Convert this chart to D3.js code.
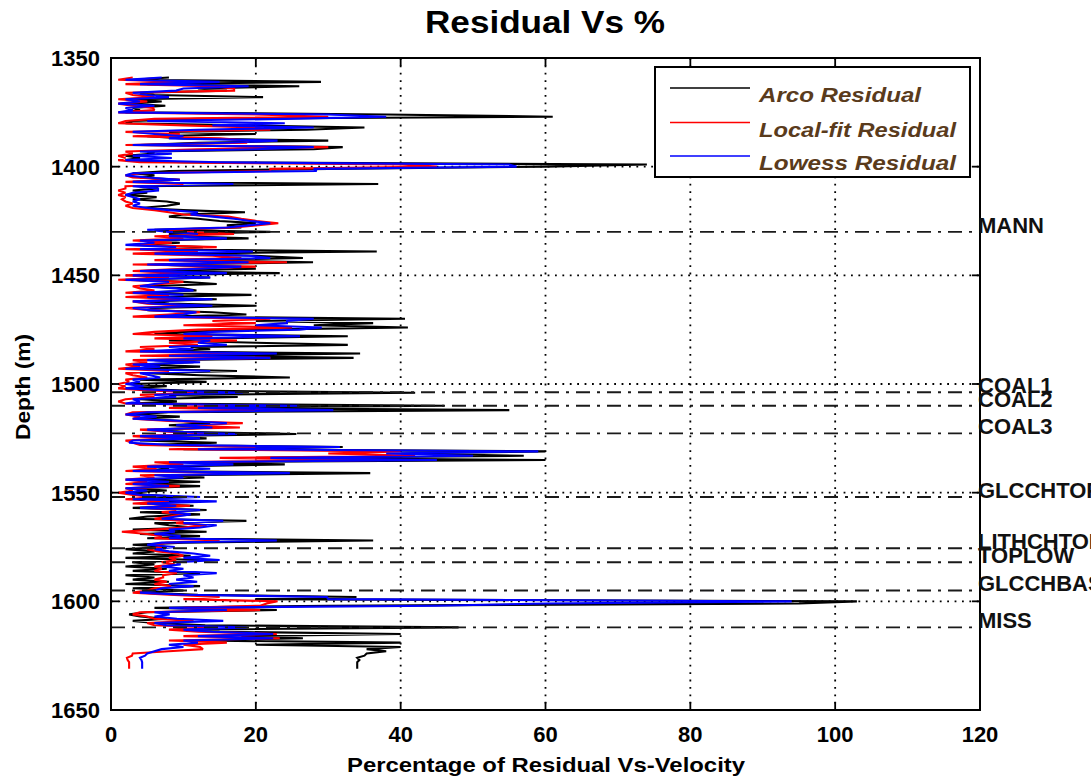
<!DOCTYPE html>
<html><head><meta charset="utf-8">
<script src="https://cdn.jsdelivr.net/npm/d3@7"></script>
<style>body{margin:0;background:#fff;} text{font-family:"Liberation Sans",Arial,sans-serif;}</style>
</head><body><svg id="c" width="1091" height="780"></svg>
<script>
// ---------------- data ----------------
const depthStart = 1359;   // first sample depth (m)
const depthStep = 1;       // sample spacing (m)

const arcoResidual = [
  8, 3, 29, 5, 26, 12, 16, 4, 6, 21,
  3, 7, 2, 7.5, 3, 4, 2, 38, 61, 12,
  3, 2, 18, 35, 27, 8, 20, 5, 10, 30,
  12, 4, 32, 28, 5, 6, 2, 4, 2, 10,
  74, 60, 30, 8, 3, 6, 4, 9.5, 3, 36.9,
  4, 6.5, 3, 5, 2, 6.3, 3, 7.7, 9.5, 7.7,
  4, 10, 18.5, 10, 8, 12, 15, 20, 16, 18,
  6, 22, 8, 10, 19, 5, 9.5, 4, 12.7, 5,
  36.7, 8, 20, 26.5, 10, 27.9, 6, 14, 20, 6,
  23.3, 4, 13.7, 3, 10, 14.6, 5, 10, 11.8, 4,
  19.4, 6, 14.6, 5, 8, 20.1, 6, 5, 14, 18.7,
  8, 40.6, 20, 36.2, 28, 41, 20, 10, 6, 32.7,
  14, 8, 20, 32.7, 11, 13.7, 6, 34.4, 10, 33.5,
  6, 11.4, 4, 12.3, 3, 17.4, 5, 12.3, 24.7, 4,
  13.2, 3, 7.7, 2, 10, 42, 8, 17.5, 4, 9.1,
  3, 46, 10, 55, 8, 3, 9.5, 4, 10, 13.7,
  8, 14.6, 6, 10, 25.6, 5, 13.2, 4, 14.6, 6,
  32, 10, 60, 40, 57, 20, 60, 10, 24, 6,
  8, 4, 35.8, 8, 12.9, 3, 12.3, 4, 12.3, 3,
  7.7, 2, 5, 10, 3, 11.4, 4, 11.4, 3, 13.2,
  4, 12.3, 5, 2.5, 18.7, 6, 8, 11.4, 3, 13.2,
  4, 12.3, 5, 36.2, 10, 3, 7.7, 2, 6, 3,
  11, 2, 12.3, 3, 6, 2, 7.7, 3, 12.3, 2,
  6, 3, 8, 2, 12.3, 3, 10, 4, 12, 33.9,
  20, 103, 95, 30, 6, 22.9, 5, 2.5, 4, 7.7,
  3, 6, 13, 48, 10, 15, 40, 18, 26.5, 12,
  40, 20, 40, 35.3, 38, 35.3, 35, 34, 34.3, 34,
  34, 34, 34
];

const localFitResidual = [
  3, 1, 10, 2, 14, 17, 17, 2, 3, 6,
  1, 5, 1, 3, 5.8, 6, 1, 20, 30, 6,
  2, 1, 10, 20, 22, 2, 9.5, 3, 15, 19,
  18.7, 2, 30, 12, 2, 3, 1, 2, 1, 4,
  40, 45, 22, 22, 4, 2, 3, 9.5, 2, 10,
  2, 2, 1, 2, 1, 2, 1.5, 2, 3, 2,
  3, 6, 8, 10, 16.2, 18, 20.1, 23.1, 20, 17,
  8, 10, 17, 6, 10, 3, 8.4, 3, 14.6, 2,
  12, 3, 14, 18, 6, 24.3, 3, 20, 10, 3,
  10, 2, 8, 1, 10, 7, 3, 4, 6, 2,
  8, 2, 10, 3, 5, 12, 2, 5.4, 12.3, 8,
  3, 22, 14, 20, 10, 25, 12, 6, 3, 14,
  6, 17.4, 8, 12, 4, 6, 2, 18, 4, 22,
  3, 5, 2, 4, 1, 8, 2, 3, 5, 2,
  2.5, 1, 2, 1, 5, 14, 4, 6, 2, 1,
  2, 20, 8, 24, 3, 2, 4, 3, 8, 18.2,
  10, 17.8, 4, 8, 14, 3, 8, 2, 3, 4,
  20, 8, 40, 30, 42, 15, 38, 6, 10, 3,
  6.3, 2, 18, 4, 6, 2, 5, 2, 9.5, 2,
  3, 1, 3, 6, 2, 8, 3, 10.9, 5, 9,
  7, 10, 8, 6, 10, 9, 13.2, 10, 6, 1.5,
  5, 7, 6, 15, 7.7, 6, 7, 5, 6.5, 9.1,
  10, 8, 9, 7, 8.8, 6, 7, 6, 9.1, 7.2,
  7.2, 6, 7.7, 6, 8.3, 6, 5, 3, 8, 15,
  10, 23, 21.5, 20.6, 10, 20.6, 4, 3, 5, 6,
  11.4, 5, 6, 14, 8, 12, 22.9, 10, 23.3, 8,
  16, 10, 12.3, 12.7, 8, 3, 2.9, 2.2, 2.3, 2.5,
  2.5, 2.5, 2.5
];

const lowessResidual = [
  7, 2, 15, 4, 19, 10, 9, 3, 5, 8,
  2, 4, 1, 6, 2, 3, 1, 30, 38, 24,
  5, 24, 14, 28, 12, 3, 6, 10, 8, 23,
  16, 3, 28, 20, 4, 8.4, 3, 8.4, 2, 15,
  55, 56, 28, 28.4, 3, 2, 5, 9.5, 3, 16.9,
  3, 6.5, 6.5, 3, 2, 3, 4, 3, 4, 3,
  5, 8, 12, 11, 14, 17, 19.2, 22, 19, 16,
  5, 8, 12, 8, 16, 4, 6, 2, 9, 4,
  19.6, 6, 19, 22, 8, 19, 5, 18, 12, 4,
  16, 3, 13.7, 2, 8, 6, 4, 9, 11.4, 3,
  10, 5, 14, 3, 6, 14, 3, 5.4, 11.8, 10,
  6, 28, 24.3, 24.3, 20, 29.1, 26, 14, 10, 26.1,
  10, 13.7, 12, 16, 8, 11.4, 4, 22.9, 8, 22,
  5, 12.3, 3, 6.8, 2, 13.7, 4, 5.4, 6.8, 3,
  4, 2, 4.5, 2, 8, 18.2, 6, 9, 3, 4,
  2, 26, 12, 30.7, 5, 2, 6.3, 3, 10, 16,
  9, 14, 5, 9, 17.4, 4, 12.3, 3, 2.5, 8,
  31.6, 12, 59, 38, 50, 22, 45, 8, 16.9, 5,
  13.7, 3, 24.7, 6, 10, 2, 8, 3, 8, 2,
  5, 2, 4, 12.3, 3, 14.6, 5, 9, 4, 12.3,
  8, 11, 9, 7, 15.5, 10, 14.6, 12.3, 8, 8.8,
  6, 9.6, 8, 22.9, 7, 5, 8.8, 6, 8, 11.4,
  13.7, 10, 15, 9, 9.6, 7, 10, 8, 14.6, 10,
  11.4, 9, 11.9, 8, 11.4, 7, 6, 4, 10, 29.8,
  30, 94, 60, 45, 8, 16, 6, 8.1, 6, 9.1,
  15.5, 6, 7.7, 18.7, 10, 14, 22.4, 12, 22.4, 10,
  12, 8, 10, 7, 6, 5, 4.7, 4, 4.2, 4.3,
  4.3, 4.3, 4.3
];

const seriesNames = ["Arco Residual", "Local-fit Residual", "Lowess Residual"];
const seriesColors = ["#000000", "#ff0000", "#0000ff"];

const formationNames  = ["MANN", "COAL1", "COAL2", "COAL3", "GLCCHTOP", "LITHCHTOP", "TOPLOW", "GLCCHBASE", "MISS"];
const formationDepths = [1430, 1503.8, 1510, 1522.7, 1552, 1575.6, 1582, 1595, 1612];

const xTicks = [0, 20, 40, 60, 80, 100, 120];
const yTicks = [1350, 1400, 1450, 1500, 1550, 1600, 1650];

const titleText = "Residual Vs %";
const xLabelText = "Percentage of Residual Vs-Velocity";
const yLabelText = "Depth (m)";

// ---------------- drawing ----------------
const svg = d3.select("#c");
const L = 111, R = 980, T = 58, B = 710;
const x = d3.scaleLinear().domain([0, 120]).range([L, R]);
const y = d3.scaleLinear().domain([1350, 1650]).range([T, B]);

svg.append("rect").attr("width", 1091).attr("height", 780).attr("fill", "#fff");

// grid (dotted)
const grid = svg.append("g").attr("stroke", "#000").attr("stroke-width", 1.8)
  .attr("stroke-dasharray", "1.8,5.6");
xTicks.slice(1, -1).forEach(t => grid.append("line")
  .attr("x1", x(t)).attr("x2", x(t)).attr("y1", T).attr("y2", B));
yTicks.slice(1, -1).forEach(t => grid.append("line")
  .attr("x1", L).attr("x2", R).attr("y1", y(t)).attr("y2", y(t)));

// clip
svg.append("clipPath").attr("id", "clip").append("rect")
  .attr("x", L).attr("y", T).attr("width", R - L).attr("height", B - T);

const seriesData = [arcoResidual, localFitResidual, lowessResidual];
const line = d3.line()
  .x(d => x(d.v))
  .y(d => y(d.depth));
const dataG = svg.append("g").attr("clip-path", "url(#clip)");
seriesData.forEach((vals, k) => {
  const pts = vals.map((v, i) => ({ depth: depthStart + i * depthStep, v }));
  dataG.append("path").datum(pts)
    .attr("d", line)
    .attr("fill", "none")
    .attr("stroke", seriesColors[k])
    .attr("stroke-width", 2.1)
    .attr("stroke-linejoin", "miter")
    .attr("stroke-miterlimit", 2);
});

// formation tops (dash-dot)
const fg = svg.append("g");
formationDepths.forEach((d, i) => {
  fg.append("line")
    .attr("x1", L).attr("x2", R).attr("y1", y(d)).attr("y2", y(d))
    .attr("stroke", "#1a1a1a").attr("stroke-width", 1.9)
    .attr("stroke-dasharray", "14,7,3,7");
});

// axes box
svg.append("rect").attr("x", L).attr("y", T).attr("width", R - L).attr("height", B - T)
  .attr("fill", "none").attr("stroke", "#000").attr("stroke-width", 2);

// ticks (inward, MATLAB style)
const tk = svg.append("g").attr("stroke", "#000").attr("stroke-width", 1.8);
xTicks.forEach(t => {
  tk.append("line").attr("x1", x(t)).attr("x2", x(t)).attr("y1", B).attr("y2", B - 8);
  tk.append("line").attr("x1", x(t)).attr("x2", x(t)).attr("y1", T).attr("y2", T + 8);
});
yTicks.forEach(t => {
  tk.append("line").attr("x1", L).attr("x2", L + 8).attr("y1", y(t)).attr("y2", y(t));
  tk.append("line").attr("x1", R).attr("x2", R - 8).attr("y1", y(t)).attr("y2", y(t));
});

// tick labels
xTicks.forEach(t => svg.append("text")
  .attr("x", x(t)).attr("y", 742).attr("text-anchor", "middle")
  .attr("font-size", 22).attr("font-weight", "bold").text(t));
yTicks.forEach(t => svg.append("text")
  .attr("x", 100).attr("y", y(t) + 8).attr("text-anchor", "end")
  .attr("font-size", 22).attr("font-weight", "bold").text(t));

// formation labels
formationDepths.forEach((d, i) => svg.append("text")
  .attr("x", 978).attr("y", y(d) + 1)
  .attr("font-size", 22).attr("font-weight", "bold").attr("fill", "#111")
  .text(formationNames[i]));

// title and axis labels
svg.append("text").attr("x", 545).attr("y", 33).attr("text-anchor", "middle")
  .attr("font-size", 31).attr("font-weight", "bold")
  .attr("textLength", 240).attr("lengthAdjust", "spacingAndGlyphs").text(titleText);
svg.append("text").attr("x", 546).attr("y", 772).attr("text-anchor", "middle")
  .attr("font-size", 21).attr("font-weight", "bold")
  .attr("textLength", 398).attr("lengthAdjust", "spacingAndGlyphs").text(xLabelText);
svg.append("text").attr("transform", "translate(30,387) rotate(-90)")
  .attr("text-anchor", "middle")
  .attr("font-size", 20).attr("font-weight", "bold")
  .attr("textLength", 106).attr("lengthAdjust", "spacingAndGlyphs").text(yLabelText);

// legend
const lg = svg.append("g");
lg.append("rect").attr("x", 655).attr("y", 67).attr("width", 315).attr("height", 110)
  .attr("fill", "#fff").attr("stroke", "#000").attr("stroke-width", 2);
const legY = [88, 122.5, 156];
const legW = [162, 197, 197];
seriesNames.forEach((n, i) => {
  lg.append("line").attr("x1", 670).attr("x2", 750).attr("y1", legY[i]).attr("y2", legY[i])
    .attr("stroke", seriesColors[i]).attr("stroke-width", 1.7);
  lg.append("text").attr("x", 759).attr("y", legY[i] + 14)
    .attr("font-size", 21).attr("font-weight", "bold").attr("font-style", "italic")
    .attr("fill", "#5a3b1c")
    .attr("textLength", legW[i]).attr("lengthAdjust", "spacingAndGlyphs")
    .text(n);
});
</script>
</body></html>
